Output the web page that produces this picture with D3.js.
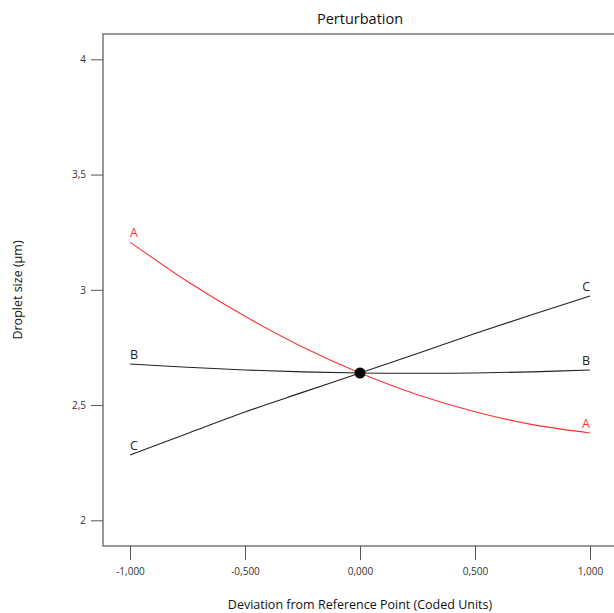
<html>
<head>
<meta charset="utf-8" />
<title>Perturbation</title>
<script src="https://d3js.org/d3.v7.min.js"></script>
<style>
  body { margin: 0; background: #fff; }
  text { font-family: "Open Sans", "Noto Sans", sans-serif; }
</style>
</head>
<body>
<svg class="chart"></svg>
<script>
// deviation values (coded units)
const devs = [-1, -0.75, -0.5, -0.25, 0, 0.25, 0.5, 0.75, 1];
// droplet size per factor
const factorA = [3.207, 3.036, 2.885, 2.752, 2.639, 2.545, 2.471, 2.415, 2.379];
const factorB = [2.678, 2.664, 2.652, 2.644, 2.639, 2.638, 2.639, 2.644, 2.652];
const factorC = [2.283, 2.377, 2.470, 2.555, 2.639, 2.724, 2.810, 2.893, 2.973];
const factorNames = ["A", "B", "C"];
const factorColors = ["#ff3030", "#222", "#222"];
const xTicks = [-1, -0.5, 0, 0.5, 1];
const yTicks = [2, 2.5, 3, 3.5, 4];
const refPoint = [0, 2.639];

const W = 614, H = 613;
const svg = d3.select("svg").attr("width", W).attr("height", H);

// plot box
const plotLeft = 103, plotTop = 34, plotBottom = 546;
const x = d3.scaleLinear().domain([-1, 1]).range([130, 590]);
const y = d3.scaleLinear().domain([2, 4]).range([520.3, 59.3]);

const comma = v => d3.format(".3f")(v).replace(".", ",").replace("−", "-");
const commaY = v => String(v).replace(".", ",");

// frame: top, left and bottom line (right edge falls outside)
svg.append("path")
  .attr("d", `M${W + 5},${plotTop}H${plotLeft}V${plotBottom}H${W + 5}`)
  .attr("fill", "none").attr("stroke", "#777").attr("stroke-width", 1.5);

// y axis
const yAx = svg.append("g").attr("transform", `translate(${plotLeft},0)`)
  .call(d3.axisLeft(y).tickValues(yTicks).tickSize(12).tickPadding(5).tickFormat(commaY));
yAx.select(".domain").remove();
yAx.selectAll("line").attr("stroke", "#555");
yAx.selectAll("text").attr("fill", "#333").style("font-size", "10px")
  .style("font-family", '"Open Sans", sans-serif');

// x axis
const xAx = svg.append("g").attr("transform", `translate(0,${plotBottom})`)
  .call(d3.axisBottom(x).tickValues(xTicks).tickSize(14).tickPadding(8).tickFormat(comma));
xAx.select(".domain").remove();
xAx.selectAll("line").attr("stroke", "#555");
xAx.selectAll("text").attr("fill", "#333").style("font-size", "10px")
  .style("font-family", '"Open Sans", sans-serif');

// curves
const series = [factorA, factorB, factorC];
const line = d3.line().x((d, i) => x(devs[i])).y(d => y(d)).curve(d3.curveCatmullRom);
series.forEach((s, k) => {
  svg.append("path").datum(s).attr("d", line)
    .attr("fill", "none").attr("stroke", factorColors[k]).attr("stroke-width", 1.1);
  svg.append("text")
    .attr("x", x(devs[0])).attr("y", y(s[0]) - 5)
    .attr("fill", factorColors[k]).style("font-size", "12.5px")
    .text(factorNames[k]);
  svg.append("text")
    .attr("x", x(devs[devs.length - 1])).attr("y", y(s[s.length - 1]) - 5)
    .attr("text-anchor", "end")
    .attr("fill", factorColors[k]).style("font-size", "12.5px")
    .text(factorNames[k]);
});

// reference point
svg.append("circle").attr("cx", x(refPoint[0])).attr("cy", y(refPoint[1]))
  .attr("r", 5.5).attr("fill", "#000");

// titles
svg.append("text").attr("x", 360).attr("y", 24).attr("text-anchor", "middle")
  .style("font-size", "14.5px").attr("fill", "#111").text("Perturbation");
svg.append("text").attr("x", 360).attr("y", 609).attr("text-anchor", "middle")
  .style("font-size", "12.5px").attr("fill", "#111")
  .text("Deviation from Reference Point (Coded Units)");
svg.append("text").attr("transform", "translate(22,290) rotate(-90)")
  .attr("text-anchor", "middle").style("font-size", "12.5px").attr("fill", "#111")
  .text("Droplet size (µm)");
</script>
</body>
</html>
